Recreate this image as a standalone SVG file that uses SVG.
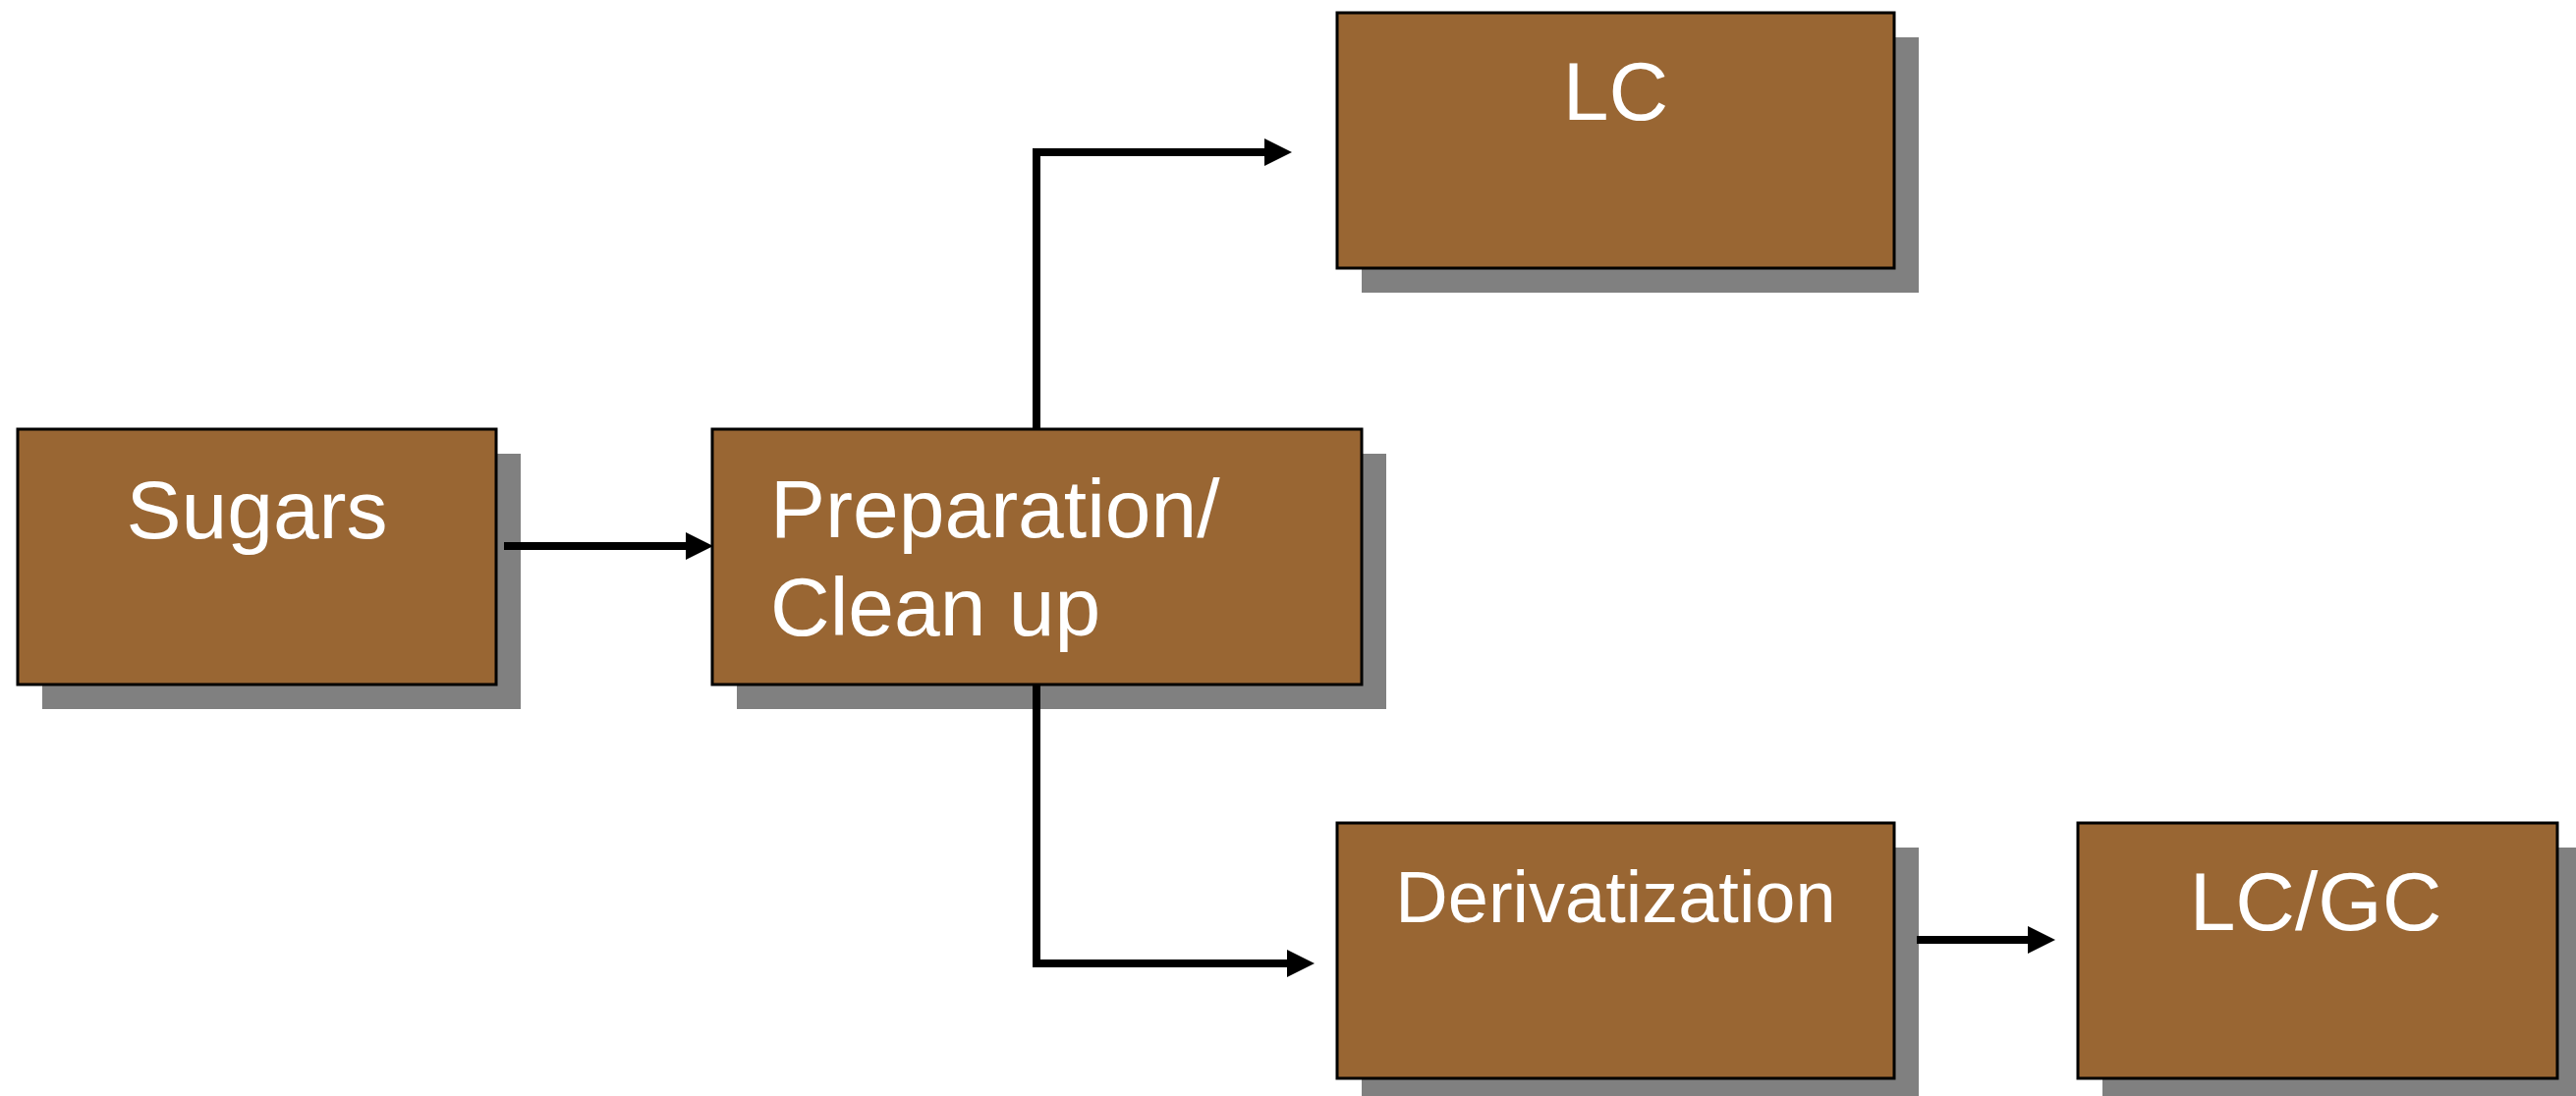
<svg xmlns="http://www.w3.org/2000/svg" width="2622" height="1116" viewBox="0 0 2622 1116">
<style>
.shadow{fill:#808080}
.box{fill:#996633;stroke:#000;stroke-width:3}
.lbl{fill:#fff;font-family:"Liberation Sans",Arial,sans-serif;font-size:84px}
.conn{fill:none;stroke:#000;stroke-width:8;stroke-linejoin:miter}
</style>
<defs>
<marker id="ah" markerUnits="userSpaceOnUse" markerWidth="30" markerHeight="30" refX="0" refY="14" orient="auto">
<path d="M0,0 L28,14 L0,28 Z" fill="#000"/>
</marker>
</defs>
<g id="sugars">
<rect class="shadow" x="43" y="462" width="487" height="260"/>
<rect class="box" x="18" y="437" width="487" height="260"/>
<text class="lbl" x="261.5" y="548" text-anchor="middle">Sugars</text>
</g>
<g id="preparation">
<rect class="shadow" x="750" y="462" width="661" height="260"/>
<rect class="box" x="725" y="437" width="661" height="260"/>
<text class="lbl" x="784" y="547">Preparation/</text>
<text class="lbl" x="784" y="647">Clean up</text>
</g>
<g id="lc">
<rect class="shadow" x="1386" y="38" width="567" height="260"/>
<rect class="box" x="1361" y="13" width="567" height="260"/>
<text class="lbl" x="1644.5" y="122" text-anchor="middle">LC</text>
</g>
<g id="derivatization">
<rect class="shadow" x="1386" y="863" width="567" height="260"/>
<rect class="box" x="1361" y="838" width="567" height="260"/>
<text class="lbl" x="1644.5" y="939" text-anchor="middle" style="font-size:74px">Derivatization</text>
</g>
<g id="lcgc">
<rect class="shadow" x="2140" y="863" width="488" height="260"/>
<rect class="box" x="2115" y="838" width="488" height="260"/>
<text class="lbl" x="2357" y="947" text-anchor="middle">LC/GC</text>
</g>
<g id="connectors">
<path class="conn" d="M513,556 L698,556" marker-end="url(#ah)"/>
<path class="conn" d="M1055,437 L1055,155 L1287,155" marker-end="url(#ah)"/>
<path class="conn" d="M1055,697 L1055,981 L1310,981" marker-end="url(#ah)"/>
<path class="conn" d="M1951,957 L2064,957" marker-end="url(#ah)"/>
</g>
</svg>
